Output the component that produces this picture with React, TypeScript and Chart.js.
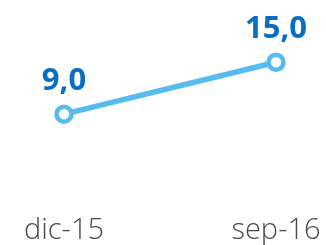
import React, { useEffect, useRef } from "react";
import { Chart, registerables } from "chart.js";

Chart.register(...registerables);

const categories = ["dic-15", "sep-16"];
const values = [9.0, 15.0];
const valueLabels = ["9,0", "15,0"];

const valueLabelPlugin = {
  id: "valueLabels",
  afterDatasetsDraw(chart: any) {
    const ctx = chart.ctx;
    const meta = chart.getDatasetMeta(0);
    ctx.save();
    ctx.font = "bold 31px 'Open Sans'";
    ctx.fillStyle = "#0a6ec0";
    ctx.textAlign = "center";
    ctx.textBaseline = "alphabetic";
    meta.data.forEach((pt: any, i: number) => {
      ctx.fillText(valueLabels[i], pt.x, pt.y - 24);
    });
    ctx.restore();
  },
};

export default function App() {
  const ref = useRef<HTMLCanvasElement | null>(null);
  useEffect(() => {
    document.body.style.margin = "0";
    const chart = new Chart(ref.current!, {
      type: "line",
      data: {
        labels: categories,
        datasets: [
          {
            data: values,
            borderColor: "#56bbee",
            borderWidth: 5.5,
            pointRadius: 7.5,
            pointBorderWidth: 4.5,
            pointBackgroundColor: "#ffffff",
            pointBorderColor: "#56bbee",
            tension: 0,
          },
        ],
      },
      options: {
        responsive: false,
        animation: false,
        layout: { padding: { left: 64, right: 50, top: 19, bottom: 0 } },
        plugins: { legend: { display: false }, tooltip: { enabled: false } },
        scales: {
          x: {
            offset: false,
            grid: { display: false, drawTicks: false },
            border: { display: false },
            ticks: {
              color: "#4a4a4a",
              font: { family: "'Open Sans'", size: 29, weight: 300 },
              padding: 21.5,
              maxRotation: 0,
            },
            afterFit(scale: any) {
              scale.height = 53;
              scale.paddingLeft = 0;
              scale.paddingRight = 0;
            },
          },
          y: { display: false, min: 0, max: 20 },
        },
      },
      plugins: [valueLabelPlugin],
    });
    return () => chart.destroy();
  }, []);
  return <canvas ref={ref} width={326} height={245} />;
}
